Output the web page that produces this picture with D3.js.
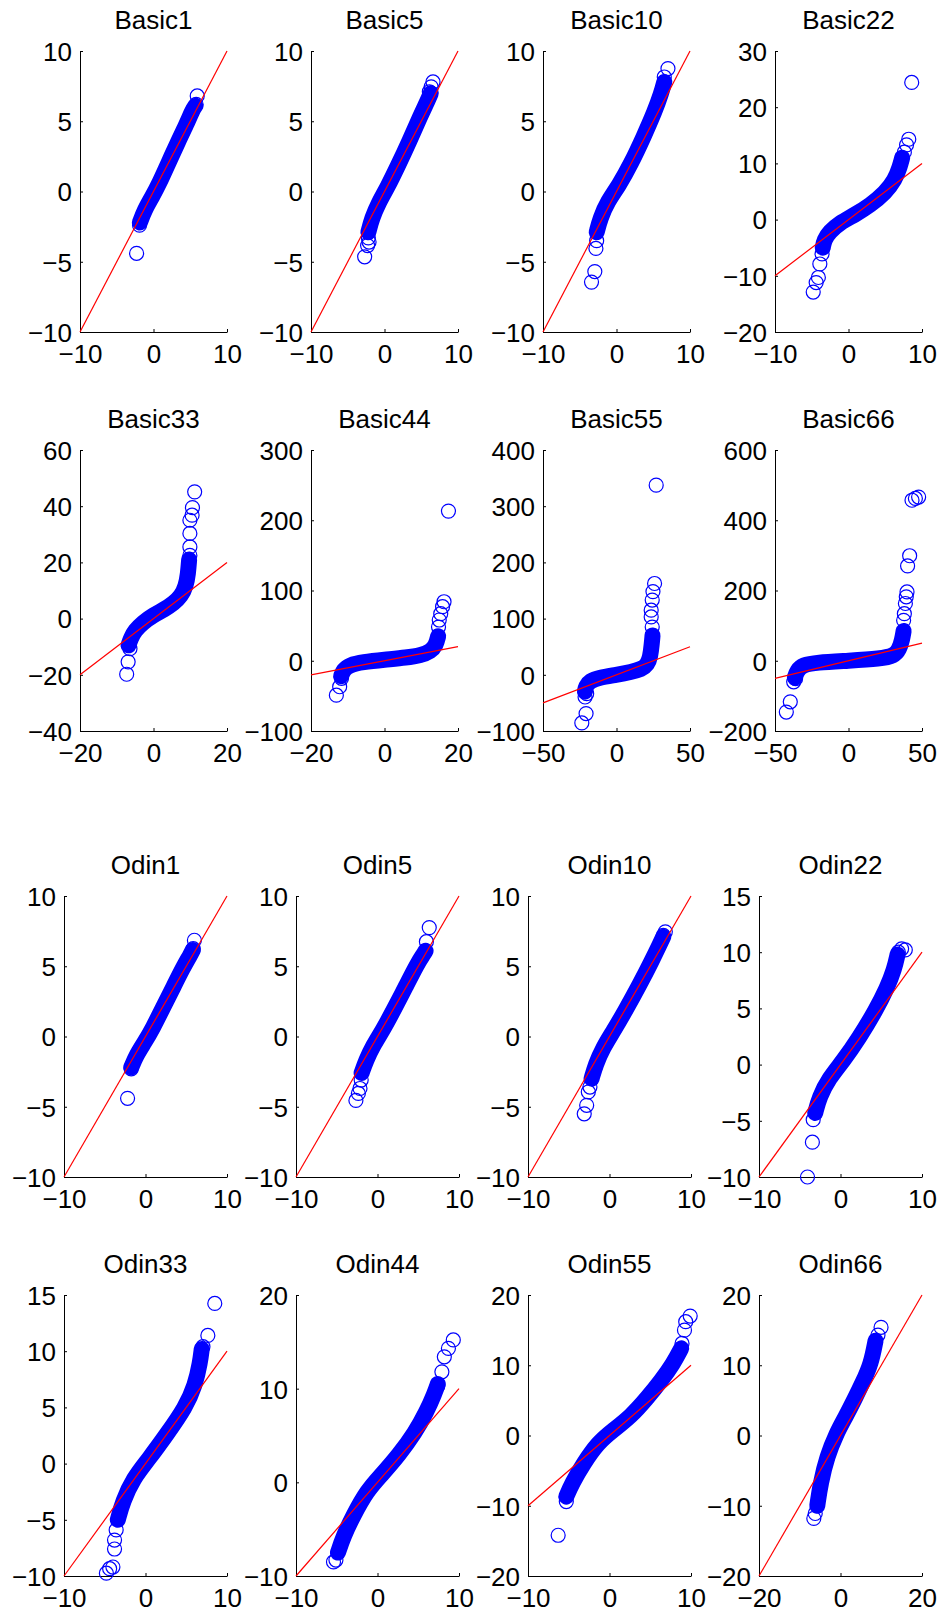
<!DOCTYPE html>
<html lang="en">
<head>
<meta charset="UTF-8">
<title>QQ plots</title>
<script src="https://d3js.org/d3.v7.min.js"></script>
<style>
  body { margin: 0; background: #fff; }
  text { font-family: "Liberation Sans", Arial, Helvetica, sans-serif; }
</style>
</head>
<body>
<svg id="chart"></svg>
<script>
// panel titles
var titles = ["Basic1", "Basic5", "Basic10", "Basic22",
              "Basic33", "Basic44", "Basic55", "Basic66",
              "Odin1", "Odin5", "Odin10", "Odin22",
              "Odin33", "Odin44", "Odin55", "Odin66"];

var xDomains = [[-10,10],[-10,10],[-10,10],[-10,10],
                [-20,20],[-20,20],[-50,50],[-50,50],
                [-10,10],[-10,10],[-10,10],[-10,10],
                [-10,10],[-10,10],[-10,10],[-20,20]];

var yDomains = [[-10,10],[-10,10],[-10,10],[-20,30],
                [-40,60],[-100,300],[-100,400],[-200,600],
                [-10,10],[-10,10],[-10,10],[-10,15],
                [-10,15],[-10,20],[-20,20],[-20,20]];

var xTicks = [[-10,0,10],[-10,0,10],[-10,0,10],[-10,0,10],
              [-20,0,20],[-20,0,20],[-50,0,50],[-50,0,50],
              [-10,0,10],[-10,0,10],[-10,0,10],[-10,0,10],
              [-10,0,10],[-10,0,10],[-10,0,10],[-20,0,20]];

var yTicks = [[-10,-5,0,5,10],[-10,-5,0,5,10],[-10,-5,0,5,10],[-20,-10,0,10,20,30],
              [-40,-20,0,20,40,60],[-100,0,100,200,300],[-100,0,100,200,300,400],[-200,0,200,400,600],
              [-10,-5,0,5,10],[-10,-5,0,5,10],[-10,-5,0,5,10],[-10,-5,0,5,10,15],
              [-10,-5,0,5,10,15],[-10,0,10,20],[-20,-10,0,10,20],[-20,-10,0,10,20]];

// dense part of each quantile curve (read along the middle of the blue band)
var bands = [
  [[-1.85,-2.2],[-1.2,-1.3],[-0.2,-0.4],[0.8,0.6],[2.0,2.0],[3.3,3.5],[4.5,4.8],[5.3,5.8],[5.7,6.1]],
  [[-2.2,-2.9],[-1.7,-1.9],[-0.8,-0.8],[0.4,0.3],[1.8,1.8],[3.4,3.6],[4.9,5.4],[5.9,6.5],[6.3,7.0]],
  [[-2.7,-2.9],[-2.2,-1.9],[-1.2,-0.7],[0.3,0.4],[2.0,2.0],[3.7,3.9],[5.2,5.7],[6.1,7.0],[6.5,7.8]],
  [[-3.5,-5.0],[-3.3,-3.6],[-2.6,-2.2],[-1.2,-0.6],[0.8,0.8],[3.0,2.6],[5.0,4.8],[6.3,7.0],[7.0,9.5],[7.3,11]],
  [[-6.8,-9.5],[-6.2,-7.0],[-5.0,-4.2],[-3.0,-1.5],[0,1.3],[3.0,3.3],[5.5,5.5],[7.5,8.0],[8.8,11.5],[9.4,16],[9.7,21]],
  [[-11.8,-22],[-11.2,-13],[-9.5,-6],[-6,-2],[0,1.5],[6,4.5],[10,8],[12.5,13],[14,22],[14.6,35]],
  [[-21.5,-30],[-20.8,-20],[-18,-11],[-12,-5],[0,0],[10,5],[17,10],[21,18],[23,32],[24,55],[24.5,70]],
  [[-36.5,-48],[-35,-28],[-31,-12],[-22,-5],[0,0],[22,6],[31,14],[34.5,32],[36.5,60],[37.5,85]],
  [[-1.75,-2.2],[-1.1,-1.3],[-0.1,-0.4],[0.9,0.6],[2.1,2.0],[3.4,3.5],[4.6,4.9],[5.5,5.8],[5.8,6.15]],
  [[-1.95,-2.6],[-1.4,-1.7],[-0.5,-0.6],[0.6,0.4],[2.0,1.9],[3.5,3.6],[4.9,5.2],[5.7,5.9],[5.9,6.1]],
  [[-2.2,-3.0],[-1.7,-2.0],[-0.8,-0.8],[0.5,0.4],[2.0,1.9],[3.7,3.7],[5.2,5.4],[6.2,6.6],[6.6,7.1]],
  [[-3.1,-4.3],[-2.6,-2.9],[-1.4,-1.2],[0.3,0.3],[2.3,2.4],[4.3,4.8],[5.7,6.8],[6.6,8.5],[7.0,9.8]],
  [[-3.4,-5.0],[-2.8,-3.4],[-1.5,-1.3],[0.4,0.4],[2.7,2.7],[4.9,5.0],[6.1,7.0],[6.7,9.0],[6.9,10.2]],
  [[-4.85,-7.5],[-4.2,-5.8],[-3.0,-3.6],[-1.3,-0.9],[0.6,0.9],[2.6,2.9],[4.6,5.3],[6.0,7.5],[7.0,9.5],[7.4,10.5]],
  [[-5.3,-8.7],[-4.6,-6.8],[-3.2,-4.0],[-1.4,-1.0],[0.5,0.8],[2.6,2.7],[4.6,5.3],[6.4,7.9],[7.8,10.2],[8.8,12.4]],
  [[-5.7,-10],[-4.9,-6.8],[-3.3,-3.0],[-1.0,0.3],[1.2,2.6],[3.4,5.1],[5.5,7.6],[7.5,10.2],[8.6,13.5]]
];

// the separate circles in the tails
var outliers = [
  [[-2.3,-4.4],[-1.9,-2.4],[5.8,6.2],[5.95,6.8]],
  [[-2.2,-3.3],[-2.1,-3.6],[-2.3,-3.85],[-2.7,-4.65],[6.1,7.1],[6.35,7.45],[6.6,7.8]],
  [[-2.7,-3.5],[-2.8,-4.05],[-2.95,-5.7],[-3.4,-6.45],[6.5,8.15],[7.0,8.75]],
  [[-3.6,-6.1],[-3.9,-7.9],[-4.1,-10.3],[-4.4,-11.2],[-4.8,-12.9],[7.6,12.0],[7.9,13.3],[8.2,14.3],[8.6,24.4]],
  [[-6.4,-10.7],[-6.9,-15.4],[-7.3,-19.8],[9.9,22.5],[9.9,25.5],[9.9,30.3],[9.9,35],[10.5,36.8],[10.6,39.5],[11.2,45.1]],
  [[-11.7,-25],[-12.2,-37],[-13.1,-49],[14.7,48],[14.9,58],[15.3,67],[15.8,77],[16.2,84],[17.4,213]],
  [[-20.3,-33.5],[-21.4,-39.5],[-20.7,-69],[-23.6,-85.7],[24.3,85],[23.6,103],[23.6,115],[24.3,133],[24.8,148],[25.9,162.5],[27,337.5]],
  [[-36,-51],[-37.3,-60],[-39.6,-117],[-42.3,-146],[37.5,115],[38,134],[38.7,163],[39.3,182],[39.8,196],[40.2,270],[41.6,299],[43.2,457],[45.5,462],[47.7,466]],
  [[-1.75,-2.3],[-2.2,-4.4],[5.85,6.25],[6.0,6.85]],
  [[-2.0,-3.1],[-2.15,-3.7],[-2.35,-4.05],[-2.65,-4.55],[6.0,6.75],[6.35,7.75]],
  [[-2.4,-3.6],[-2.6,-3.95],[-2.8,-4.9],[-3.1,-5.5],[6.6,7.2],[6.85,7.45]],
  [[-3.35,-4.9],[-3.45,-6.9],[-4.05,-10],[7.1,10],[7.5,10.3],[7.95,10.2]],
  [[-3.6,-5.9],[-3.8,-6.8],[-3.8,-7.6],[-4.0,-9.2],[-4.4,-9.35],[-4.8,-9.75],[7.05,10.4],[7.65,11.4],[8.5,14.25]],
  [[-5.1,-8.3],[-5.4,-8.5],[7.4,10.3],[7.9,11.8],[8.2,13.4],[8.7,14.3],[9.3,15.2]],
  [[-5.3,-9.4],[-6.3,-14.2],[8.9,13.1],[9.2,15.0],[9.35,16.2],[9.9,17.0]],
  [[-6.2,-11.1],[-6.55,-11.8],[9.2,14.3],[9.95,15.4]]
];

// page layout: two stacked figures with slightly different axes widths
var width = 942, height = 1616;
var basicCols = [80, 311, 543, 775], basicW = 147;
var odinCols = [64, 296, 528, 759], odinW = 163;
var rowTops = [51, 450, 896, 1295], panelH = 281;

var svg = d3.select("#chart")
    .attr("width", width)
    .attr("height", height);

svg.append("rect").attr("width", width).attr("height", height).attr("fill", "#fff");

titles.forEach(function (title, i) {
    var row = Math.floor(i / 4), col = i % 4;
    var left = row < 2 ? basicCols[col] : odinCols[col];
    var w = row < 2 ? basicW : odinW;
    var top = rowTops[row];

    var x = d3.scaleLinear().domain(xDomains[i]).range([left, left + w]);
    var y = d3.scaleLinear().domain(yDomains[i]).range([top + panelH, top]);

    var g = svg.append("g").attr("class", "panel");

    // axes, ticks point inward like matlab
    var xAxis = g.append("g")
        .attr("transform", "translate(0," + (top + panelH) + ")")
        .call(d3.axisBottom(x).tickValues(xTicks[i]).tickSizeInner(-3).tickSizeOuter(0).tickPadding(13));
    var yAxis = g.append("g")
        .attr("transform", "translate(" + left + ",0)")
        .call(d3.axisLeft(y).tickValues(yTicks[i]).tickSizeInner(-3).tickSizeOuter(0).tickPadding(8));

    [xAxis, yAxis].forEach(function (a) {
        a.attr("font-size", 26).attr("font-family", "Liberation Sans, Arial, sans-serif");
        a.selectAll("path, line").attr("stroke", "#000").attr("stroke-width", 1);
        a.selectAll("text").attr("fill", "#000");
    });
    yAxis.selectAll("text").attr("dy", "0.36em");

    // title
    g.append("text")
        .attr("x", left + w / 2)
        .attr("y", top - 22)
        .attr("text-anchor", "middle")
        .attr("font-size", 26)
        .text(title);

    // dense band of overlapping markers
    var line = d3.line()
        .x(function (d) { return x(d[0]); })
        .y(function (d) { return y(d[1]); })
        .curve(d3.curveBasis);

    g.append("path")
        .datum(bands[i])
        .attr("d", line)
        .attr("fill", "none")
        .attr("stroke", "#0000ff")
        .attr("stroke-width", 16)
        .attr("stroke-linecap", "round")
        .attr("stroke-linejoin", "round");

    g.selectAll(".pt")
        .data(outliers[i])
        .enter().append("circle")
        .attr("class", "pt")
        .attr("cx", function (d) { return x(d[0]); })
        .attr("cy", function (d) { return y(d[1]); })
        .attr("r", 7)
        .attr("fill", "none")
        .attr("stroke", "#0000ff")
        .attr("stroke-width", 1.2);

    // reference line y = x over the x range
    var xd = xDomains[i];
    g.append("line")
        .attr("x1", x(xd[0])).attr("y1", y(xd[0]))
        .attr("x2", x(xd[1])).attr("y2", y(xd[1]))
        .attr("stroke", "#ff0000")
        .attr("stroke-width", 1.2);
});
</script>
</body>
</html>
